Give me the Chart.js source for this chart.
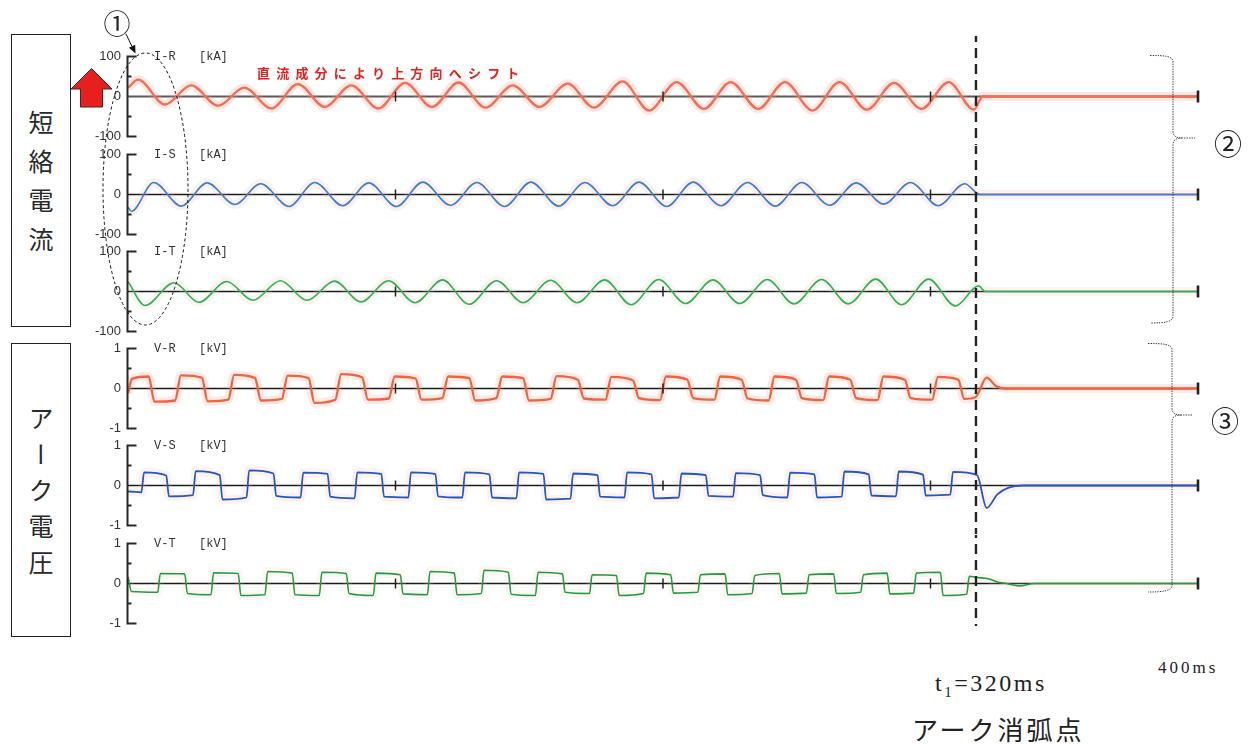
<!DOCTYPE html>
<html lang="ja">
<head>
<meta charset="UTF-8" />
<title>短絡電流・アーク電圧波形</title>
<script src="https://cdn.jsdelivr.net/npm/chart.js@4"></script>
<style>
  html, body { margin: 0; padding: 0; background: #fff; }
  #page { position: relative; width: 1255px; height: 745px; overflow: hidden; }
  .panel { position: absolute; left: 88px; width: 1116px; }
  .vbox {
    position: absolute; left: 11px; width: 58px;
    border: 1.2px solid #222;
    display: flex; align-items: center; justify-content: center;
  }
  .vbox span {
    writing-mode: vertical-rl;
    font-family: "Noto Sans CJK JP", sans-serif;
    font-size: 25px; color: #2a2a2a;
  }
  .note { position: absolute; white-space: nowrap; line-height: 1; color: #222; }
  #overlay { position: absolute; left: 0; top: 0; pointer-events: none; }
</style>
</head>
<body>
<div id="page">
  <div class="vbox" style="top:34px;height:291px"><span style="letter-spacing:14px;margin-top:14px">短絡電流</span></div>
  <div class="vbox" style="top:343px;height:292px"><span style="letter-spacing:11px;margin-top:11px">アーク電圧</span></div>

  <div class="panel" style="top:36px;height:109px"><canvas id="p0"></canvas></div>
  <div class="panel" style="top:146px;height:97px"><canvas id="p1"></canvas></div>
  <div class="panel" style="top:243px;height:97px"><canvas id="p2"></canvas></div>
  <div class="panel" style="top:340px;height:97px"><canvas id="p3"></canvas></div>
  <div class="panel" style="top:437px;height:97px"><canvas id="p4"></canvas></div>
  <div class="panel" style="top:535px;height:97px"><canvas id="p5"></canvas></div>

  <div class="note" style="left:257px;top:63px;font:bold 13px 'Noto Sans CJK JP';letter-spacing:6.2px;color:#e5201d">直流成分により上方向へシフト</div>
  <div class="note" style="left:935px;top:670px;font:24px 'Liberation Serif';letter-spacing:2.5px">t<sub style="font-size:15px">1</sub>=320ms</div>
  <div class="note" style="left:1158px;top:658px;font:17px 'Liberation Serif';letter-spacing:3px">400ms</div>
  <div class="note" style="left:912px;top:710px;font:26px 'Noto Sans CJK JP';letter-spacing:3px">アーク消弧点</div>

  <svg id="overlay" width="1255" height="745">
    <polygon points="71,89 91.5,68.5 112,89 102.5,89 102.5,107 80.5,107 80.5,89"
             fill="#e5201d" stroke="#3a2a2a" stroke-width="1"/>
    <text x="117" y="22" font-size="27" text-anchor="middle" dominant-baseline="central"
          font-family="Noto Sans CJK JP" fill="#222">①</text>
    <line x1="126" y1="34" x2="132" y2="46.5" stroke="#111" stroke-width="1"/>
    <polygon points="135.5,53.5 135.2,44.8 128.9,47.8" fill="#111"/>
    <ellipse cx="145.5" cy="189" rx="42.5" ry="136" fill="none" stroke="#111"
             stroke-width="1" stroke-dasharray="3,2.5"/>
    <path d="M1150,55.5 C1165,55.5 1173,56 1173,62 L1173,131 C1173,136 1176,138 1182,138 L1195,138
             M1182,138 C1176,138 1173,140 1173,145 L1173,316 C1173,322 1165,323 1150,323"
          fill="none" stroke="#333" stroke-width="1" stroke-dasharray="1.3,1.2"/>
    <path d="M1148,343.5 C1163,343.5 1172,344 1172,350 L1172,408 C1172,413 1175,415 1181,415 L1193,415
             M1181,415 C1175,415 1172,417 1172,422 L1172,585 C1172,591 1163,592 1148,592"
          fill="none" stroke="#333" stroke-width="1" stroke-dasharray="1.3,1.2"/>
    <text x="1228" y="143" font-size="28" text-anchor="middle" dominant-baseline="central"
          font-family="Noto Sans CJK JP" fill="#222">②</text>
    <text x="1225" y="420" font-size="28" text-anchor="middle" dominant-baseline="central"
          font-family="Noto Sans CJK JP" fill="#222">③</text>
  </svg>
</div>

<script>
  // time axis [ms]
  const timeTicks = [100, 200, 300, 400];
  const arcEndMs = 317;   // dashed line (t1)

  const panelNames = ['I-R', 'I-S', 'I-T', 'V-R', 'V-S', 'V-T'];
  const panelUnits = ['[kA]', '[kA]', '[kA]', '[kV]', '[kV]', '[kV]'];
  const currentTicks = [-100, 0, 100];
  const currentMinor = [-50, 50];
  const voltageTicks = [-1, 0, 1];
  const voltageMinor = [-0.5, 0.5];

  // short-circuit currents: times of peaks / troughs [ms] and values [kA]
  const irTimes = [0, 3.8, 13.8, 23.6, 33.7, 43.5, 53.6, 63.5, 73.6, 83.5, 93.6, 103.6, 113.6, 123.6, 133.7,
    143.8, 153.8, 164.4, 174.2, 184.9, 194.8, 205.1, 215.3, 225.3, 235.6, 245.6, 255.9, 266.0, 276.2,
    286.4, 296.6, 306.8, 316.2, 319.5, 400];
  const irValues = [22, 42, -20, 28, -23, 22, -30, 31, -26, 28, -30, 34, -26, 35, -28, 28, -26, 32, -28,
    38, -35, 36, -31, 36, -31, 36, -35, 36, -33, 34, -31, 36, -33, 0, 0];

  const isTimes = [0, 1.3, 9.6, 19.9, 29.6, 40.0, 49.6, 60.2, 69.8, 80.3, 90.0, 100.4, 110.2, 120.6, 130.4,
    140.8, 150.6, 161.0, 170.8, 181.2, 191.0, 201.4, 211.3, 221.7, 231.6, 242.0, 251.9, 262.3, 272.2,
    282.6, 292.5, 302.9, 312.8, 318.5, 400];
  const isValues = [-32, -42, 30, -29, 29, -25, 27, -30, 30, -28, 29, -30, 31, -27, 30, -30, 31, -29, 30,
    -28, 31, -30, 31, -28, 30, -29, 30, -27, 29, -24, 30, -28, 27, 0, 0];

  const itTimes = [0, 6.4, 17.2, 26.5, 36.9, 46.7, 57.0, 66.9, 77.2, 87.1, 97.4, 107.3, 117.6, 127.5, 137.8,
    147.7, 158.0, 167.9, 178.2, 188.1, 198.4, 208.4, 218.7, 228.7, 239.0, 249.0, 259.3, 269.3, 279.5,
    289.2, 299.3, 309.3, 318.0, 320.5, 400];
  const itValues = [25, -35, 22, -27, 25, -22, 27, -22, 26, -26, 27, -28, 29, -32, 27, -28, 28, -28, 29,
    -33, 30, -30, 29, -30, 30, -31, 30, -31, 31, -33, 31, -36, 14, 0, 0];

  // arc voltages: polarity changes [ms], plateau start / end levels [kV]
  const vrHead = -0.12;
  const vrEdges = [0.4, 8.8, 18.7, 28.7, 38.6, 48.6, 58.6, 68.6, 78.6, 88.6, 98.6, 108.6, 118.6, 128.7,
    138.8, 148.8, 159.1, 169.3, 179.6, 189.9, 200.0, 210.2, 220.3, 230.5, 240.6, 250.8, 261.0, 271.1,
    281.3, 291.5, 301.7, 311.5, 317.9];
  const vrStart = [0.24, -0.33, 0.33, -0.32, 0.34, -0.30, 0.32, -0.36, 0.36, -0.28, 0.30, -0.28, 0.30, -0.30,
    0.30, -0.30, 0.31, -0.25, 0.29, -0.24, 0.30, -0.24, 0.30, -0.25, 0.30, -0.24, 0.30, -0.24, 0.30,
    -0.24, 0.29, -0.26];
  const vrEnd = [0.30, -0.30, 0.27, -0.28, 0.26, -0.26, 0.26, -0.28, 0.28, -0.25, 0.25, -0.24, 0.26, -0.24,
    0.26, -0.26, 0.22, -0.28, 0.20, -0.29, 0.22, -0.28, 0.22, -0.30, 0.22, -0.29, 0.22, -0.29, 0.22,
    -0.28, 0.22, -0.22];
  const vrTailTimes = [321, 324.5, 328, 400];
  const vrTailValues = [0.27, 0.06, 0, 0];

  const vsHead = -0.15;
  const vsEdges = [0, 5.5, 14.8, 24.8, 34.8, 44.8, 54.9, 65.0, 75.1, 85.2, 95.2, 105.3, 115.4, 125.5,
    135.6, 145.7, 155.8, 165.9, 176.0, 186.1, 196.2, 206.4, 216.5, 226.7, 236.8, 247.0, 257.1, 267.3,
    277.4, 287.6, 297.7, 307.9, 317.9];
  const vsStart = [-0.15, 0.33, -0.27, 0.36, -0.35, 0.38, -0.26, 0.32, -0.28, 0.33, -0.28, 0.33, -0.27, 0.33,
    -0.30, 0.33, -0.35, 0.30, -0.28, 0.33, -0.32, 0.30, -0.26, 0.31, -0.24, 0.32, -0.30, 0.35, -0.25,
    0.35, -0.25, 0.34];
  const vsEnd = [-0.17, 0.25, -0.24, 0.26, -0.30, 0.30, -0.30, 0.29, -0.32, 0.29, -0.30, 0.29, -0.30, 0.28,
    -0.32, 0.29, -0.33, 0.26, -0.30, 0.28, -0.30, 0.26, -0.28, 0.26, -0.30, 0.28, -0.28, 0.28, -0.27,
    0.27, -0.23, 0.26];
  const vsTailTimes = [321, 325, 329, 335, 400];
  const vsTailValues = [-0.56, -0.22, -0.06, 0, 0];

  const vtHead = 0.17;
  const vtEdges = [0.8, 11.6, 21.7, 31.5, 41.7, 51.7, 61.9, 72.0, 82.1, 92.2, 102.3, 112.4, 122.5, 132.6,
    142.7, 152.8, 162.9, 173.0, 183.1, 193.2, 203.4, 213.5, 223.7, 233.8, 244.0, 254.1, 264.3, 274.4,
    284.3, 294.2, 304.2, 314.0, 318.0];
  const vtStart = [-0.20, 0.25, -0.25, 0.27, -0.30, 0.30, -0.28, 0.28, -0.25, 0.26, -0.26, 0.30, -0.28, 0.33,
    -0.27, 0.28, -0.22, 0.22, -0.30, 0.26, -0.24, 0.22, -0.28, 0.20, -0.26, 0.22, -0.25, 0.22, -0.26,
    0.26, -0.30, 0.18];
  const vtEnd = [-0.22, 0.24, -0.28, 0.25, -0.28, 0.26, -0.30, 0.25, -0.30, 0.22, -0.28, 0.26, -0.25, 0.28,
    -0.30, 0.24, -0.25, 0.20, -0.25, 0.22, -0.22, 0.24, -0.25, 0.25, -0.24, 0.24, -0.22, 0.26, -0.24,
    0.28, -0.27, 0.15];
  const vtTailTimes = [321.5, 325, 328.5, 333, 339, 400];
  const vtTailValues = [0.12, 0.04, 0, -0.06, 0, 0];

  // build point lists from the arrays above
  function peakSeries(times, values) {
    return times.map((t, i) => ({ x: t, y: values[i] }));
  }
  function plateauSeries(head, edges, starts, ends, tailT, tailV, edgeMs) {
    const pts = [{ x: 0, y: head }];
    starts.forEach((s, i) => {
      pts.push({ x: edges[i] + edgeMs, y: s }, { x: edges[i + 1] - edgeMs, y: ends[i] });
    });
    tailT.forEach((t, i) => pts.push({ x: t, y: tailV[i] }));
    return pts;
  }

  const series = [
    peakSeries(irTimes, irValues),
    peakSeries(isTimes, isValues),
    peakSeries(itTimes, itValues),
    plateauSeries(vrHead, vrEdges, vrStart, vrEnd, vrTailTimes, vrTailValues, 1.1),
    plateauSeries(vsHead, vsEdges, vsStart, vsEnd, vsTailTimes, vsTailValues, 0.5),
    plateauSeries(vtHead, vtEdges, vtStart, vtEnd, vtTailTimes, vtTailValues, 0.5)
  ];

  const lineColors = ['#f26e55', '#3b7fd6', '#2fb35a', '#f0633f', '#2358c0', '#1f9e4a'];
  const haloColors = ['rgba(248,150,130,0.22)', 'rgba(245,175,165,0.18)', 'rgba(240,200,165,0.18)',
                      'rgba(248,150,130,0.2)', 'rgba(245,175,165,0.16)', 'rgba(240,200,165,0.16)'];
  const lineWidths = [2.3, 1.6, 1.6, 2.3, 1.8, 1.6];

  // axes, zero line, ticks, dashed t1 line
  const panelDecor = {
    id: 'panelDecor',
    beforeDatasetsDraw(chart, args, o) {
      const { ctx, chartArea: a, scales: { x, y } } = chart;
      const y0 = y.getPixelForValue(0);
      ctx.save();
      ctx.strokeStyle = o.zeroColor;
      ctx.lineWidth = o.zeroWidth;
      ctx.beginPath();
      ctx.moveTo(a.left, y0);
      ctx.lineTo(x.getPixelForValue(400), y0);
      ctx.stroke();
      ctx.restore();
    },
    afterDatasetsDraw(chart, args, o) {
      const { ctx, chartArea: a, scales: { x, y } } = chart;
      const y0 = y.getPixelForValue(0);
      ctx.save();

      // tick marks on the time line
      timeTicks.forEach(t => {
        const px = x.getPixelForValue(t);
        const last = t === 400;
        ctx.strokeStyle = '#222';
        ctx.lineWidth = last ? 2.6 : 1.5;
        ctx.beginPath();
        ctx.moveTo(px, y0 - (last ? 6 : 5));
        ctx.lineTo(px, y0 + (last ? 6 : 5));
        ctx.stroke();
      });

      // dashed line at arc extinction
      const xd = x.getPixelForValue(arcEndMs);
      ctx.strokeStyle = '#222';
      ctx.lineWidth = 2.4;
      ctx.setLineDash([10, 6]);
      ctx.lineDashOffset = o.pageTop;
      ctx.beginPath();
      ctx.moveTo(xd, 0);
      ctx.lineTo(xd, o.dashEnd === null ? chart.height : y.getPixelForValue(o.dashEnd));
      ctx.stroke();
      ctx.setLineDash([]);

      // y axis with inward ticks
      const top = o.ticks[o.ticks.length - 1];
      const yt = y.getPixelForValue(top);
      const yb = y.getPixelForValue(-top);
      const ax = a.left - 0.5;
      ctx.strokeStyle = '#2e2622';
      ctx.lineWidth = 2;
      ctx.beginPath();
      ctx.moveTo(ax, yt - 1);
      ctx.lineTo(ax, yb + 1);
      ctx.moveTo(ax, yt); ctx.lineTo(ax + 9, yt);
      ctx.moveTo(ax, yb); ctx.lineTo(ax + 9, yb);
      o.minor.forEach(v => {
        const py = y.getPixelForValue(v);
        ctx.moveTo(ax, py); ctx.lineTo(ax + 4, py);
      });
      ctx.stroke();

      ctx.fillStyle = '#333';
      ctx.font = '13px "Liberation Sans"';
      ctx.textAlign = 'right';
      ctx.textBaseline = 'middle';
      o.ticks.forEach(v => ctx.fillText(String(v), a.left - 7, y.getPixelForValue(v)));

      ctx.font = '12px "Liberation Mono"';
      ctx.textAlign = 'left';
      ctx.fillText(o.name, a.left + 26, yt);
      ctx.fillText(o.unit, a.left + 71, yt);
      ctx.restore();
    }
  };

  const panelTops = [36, 146, 243, 340, 437, 535];

  series.forEach((pts, i) => {
    const isCurrent = i < 3;
    const lim = isCurrent ? 121.25 : 1.2125;
    const common = {
      data: pts,
      pointRadius: 0,
      cubicInterpolationMode: 'monotone',
      fill: false
    };
    new Chart(document.getElementById('p' + i), {
      type: 'line',
      data: {
        datasets: [
          Object.assign({}, common, { borderColor: lineColors[i], borderWidth: lineWidths[i], order: 1 }),
          Object.assign({}, common, { borderColor: haloColors[i], borderWidth: 9, order: 2 })
        ]
      },
      options: {
        animation: false,
        responsive: true,
        maintainAspectRatio: false,
        events: [],
        layout: { padding: { left: 40, right: 6, top: i === 0 ? 12 : 0, bottom: 0 } },
        scales: {
          x: { type: 'linear', min: 0, max: 400, display: false },
          y: { min: -lim, max: lim, display: false }
        },
        plugins: {
          legend: { display: false },
          tooltip: { enabled: false },
          panelDecor: {
            name: panelNames[i],
            unit: panelUnits[i],
            ticks: isCurrent ? currentTicks : voltageTicks,
            minor: isCurrent ? currentMinor : voltageMinor,
            zeroColor: i === 0 ? '#5a5a5a' : '#1a1a1a',
            zeroWidth: i === 0 ? 2 : 1.5,
            pageTop: panelTops[i],
            dashEnd: i === 5 ? -1.06 : null
          }
        }
      },
      plugins: [panelDecor]
    });
  });
</script>
</body>
</html>
